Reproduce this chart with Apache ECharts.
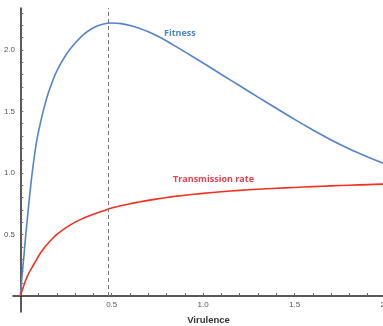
<!DOCTYPE html>
<html>
<head>
<meta charset="utf-8">
<script src="https://cdn.jsdelivr.net/npm/echarts@6/dist/echarts.min.js"></script>
<style>
  html, body { margin: 0; padding: 0; background: #fff; }
</style>
</head>
<body>
<div id="virulence_chart" style="width: 383px; height: 326px"></div>
<script>
// values
var virulence = [0, 0.01, 0.02, 0.03, 0.04, 0.05, 0.065, 0.085, 0.1, 0.125, 0.15, 0.175, 0.2,
  0.25, 0.3, 0.35, 0.4, 0.45, 0.5, 0.55, 0.6, 0.65, 0.7, 0.75, 0.8, 0.85, 0.9,
  1.0, 1.1, 1.2, 1.3, 1.4, 1.5, 1.6, 1.7, 1.8, 1.9, 2.0];
var fitness = [0, 0.17, 0.33, 0.5, 0.65, 0.8, 1.0, 1.22, 1.34, 1.5, 1.635, 1.74, 1.83,
  1.96, 2.055, 2.13, 2.18, 2.208, 2.218, 2.213, 2.198, 2.176, 2.147, 2.112, 2.072, 2.028, 1.983,
  1.893, 1.80, 1.708, 1.616, 1.525, 1.435, 1.349, 1.268, 1.195, 1.13, 1.07];
var transmission = [0, 0.045, 0.09, 0.13, 0.165, 0.195, 0.235, 0.285, 0.325, 0.38, 0.425, 0.465, 0.5,
  0.555, 0.6, 0.635, 0.665, 0.69, 0.715, 0.733, 0.75, 0.764, 0.777, 0.789, 0.8, 0.81, 0.819,
  0.834, 0.847, 0.858, 0.867, 0.875, 0.882, 0.889, 0.895, 0.9, 0.905, 0.91];
var peakVirulence = 0.48;
var xLabels = [0.5, 1.0, 1.5, 2.0];
var yLabels = [0.5, 1.0, 1.5, 2.0];
var xMinor = [0.1, 0.2, 0.3, 0.4, 0.5, 0.6, 0.7, 0.8, 0.9, 1.0, 1.1, 1.2, 1.3, 1.4, 1.5, 1.6, 1.7, 1.8, 1.9];
var yMinor = [0.1, 0.2, 0.3, 0.4, 0.5, 0.6, 0.7, 0.8, 0.9, 1.0, 1.1, 1.2, 1.3, 1.4, 1.5, 1.6, 1.7, 1.8, 1.9, 2.0, 2.1, 2.2, 2.3];

function pairs(ys) {
  return virulence.map(function (x, i) { return [x, ys[i]]; });
}

var myChart = echarts.init(document.getElementById("virulence_chart"));
var option = {
  backgroundColor: "#fff",
  animation: false,
  grid: {
    left: 13,
    right: -3,
    top: 8,
    bottom: 14,
    outerBoundsMode: "none",
  },
  xAxis: {
    type: "value",
    min: -0.04,
    max: 2,
    name: "Virulence",
    nameLocation: "middle",
    nameGap: 3,
    nameTextStyle: {
      color: "#333",
      fontSize: 9.5,
      fontWeight: "bold",
      padding: [0, 0, 0, 18],
    },
    axisLine: { onZero: true, lineStyle: { color: "#222", width: 1.5 } },
    axisTick: { customValues: xMinor, inside: true, length: 3, lineStyle: { color: "#666" } },
    axisLabel: {
      customValues: xLabels,
      color: "#555",
      fontSize: 8,
      margin: -11,
      formatter: function (v) { return v.toFixed(1); },
    },
    splitLine: { show: false },
  },
  yAxis: {
    type: "value",
    min: -0.13,
    max: 2.34,
    axisLine: { onZero: true, lineStyle: { color: "#222", width: 1.5 } },
    axisTick: { customValues: yMinor, inside: true, length: 3, lineStyle: { color: "#666" } },
    axisLabel: {
      customValues: yLabels,
      color: "#555",
      fontSize: 8,
      margin: -2,
      formatter: function (v) { return v.toFixed(1); },
    },
    splitLine: { show: false },
  },
  series: [
    {
      name: "Fitness",
      type: "line",
      data: pairs(fitness),
      smooth: 0.4,
      symbol: "none",
      lineStyle: { color: "#5583c9", width: 1.6 },
      markLine: {
        silent: true,
        symbol: "none",
        label: { show: false },
        lineStyle: { color: "#777", type: [4, 3], width: 1 },
        data: [[{ coord: [peakVirulence, 0] }, { coord: [peakVirulence, 2.34] }]],
      },
    },
    {
      name: "Transmission rate",
      type: "line",
      data: pairs(transmission),
      smooth: 0.4,
      symbol: "none",
      lineStyle: { color: "#f2311f", width: 1.6 },
    },
  ],
  graphic: [
    {
      type: "text",
      left: 164,
      top: 29,
      style: { text: "Fitness", fill: "#4a86cf", fontSize: 9, fontWeight: "bold", fontFamily: "Open Sans" },
    },
    {
      type: "text",
      left: 173,
      top: 175,
      style: { text: "Transmission rate", fill: "#e8404c", fontSize: 9, fontWeight: "bold", fontFamily: "Open Sans" },
    },
  ],
};
window.onresize = function () {
  myChart.resize();
};
myChart.setOption(option);
</script>
</body>
</html>
